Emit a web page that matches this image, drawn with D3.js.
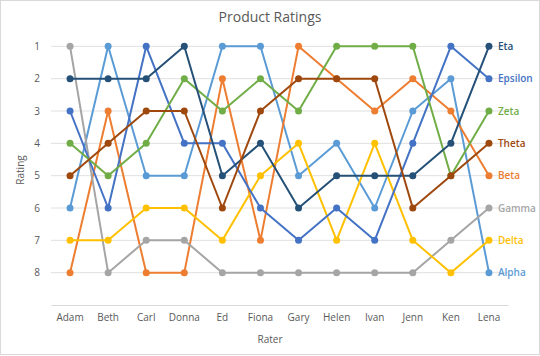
<!DOCTYPE html>
<html><head><meta charset="utf-8">
<script src="https://cdn.jsdelivr.net/npm/d3@7"></script>
<style>
body{margin:0;background:#fff;}
svg{display:block;font-family:"Open Sans","Segoe UI",sans-serif;}
</style></head>
<body><svg id="c" width="540" height="356"></svg>
<script>
const raters = ["Adam","Beth","Carl","Donna","Ed","Fiona","Gary","Helen","Ivan","Jenn","Ken","Lena"];
const yTicks = [1,2,3,4,5,6,7,8];
const seriesNames = ["Alpha","Beta","Gamma","Delta","Epsilon","Zeta","Eta","Theta"];
const seriesColors = ["#5B9BD5","#ED7D31","#A5A5A5","#FFC000","#4472C4","#70AD47","#255077","#9E480E"];
const alpha   = [6,1,5,5,1,1,5,4,6,3,2,8];
const beta    = [8,3,8,8,2,7,1,2,3,2,3,5];
const gamma   = [1,8,7,7,8,8,8,8,8,8,7,6];
const delta   = [7,7,6,6,7,5,4,7,4,7,8,7];
const epsilon = [3,6,1,4,4,6,7,6,7,4,1,2];
const zeta    = [4,5,4,2,3,2,3,1,1,1,5,3];
const eta     = [2,2,2,1,5,4,6,5,5,5,4,1];
const theta   = [5,4,3,3,6,3,2,2,2,6,5,4];
const seriesValues = [alpha,beta,gamma,delta,epsilon,zeta,eta,theta];

const svg = d3.select("#c");
const L = 51, R = 508, T = 14, B = 305;
const x = d3.scaleBand().domain(raters).range([L,R]);
const y = d3.scaleLinear().domain([0,9]).range([T,B]);
const cx = d => x(d) + x.bandwidth()/2;

svg.append("rect").attr("x",0.5).attr("y",0.5).attr("width",539).attr("height",354)
  .attr("fill","#fff").attr("stroke","#d9d9d9");

svg.append("text").attr("x",270).attr("y",22).attr("text-anchor","middle")
  .attr("font-size",14).attr("fill","#595959").text("Product Ratings");

// gridlines
svg.append("g").selectAll("line").data(yTicks).join("line")
  .attr("x1",L).attr("x2",R).attr("y1",d=>y(d)).attr("y2",d=>y(d))
  .attr("stroke","#e0e0e0").attr("stroke-width",1);

// y axis labels
const ya = svg.append("g").attr("transform",`translate(${L},0)`)
  .call(d3.axisLeft(y).tickValues(yTicks).tickSize(0).tickPadding(11));
ya.select(".domain").remove();
ya.selectAll("text").attr("font-size",10).attr("fill","#595959").attr("font-family","Open Sans");

// x axis
const xa = svg.append("g").attr("transform",`translate(0,${B})`)
  .call(d3.axisBottom(x).tickSize(0).tickPadding(9));
xa.select(".domain").attr("stroke","#d9d9d9").attr("stroke-width",1.2);
xa.selectAll("text").attr("font-size",10).attr("fill","#595959").attr("font-family","Open Sans");

svg.append("text").attr("x",270).attr("y",343).attr("text-anchor","middle")
  .attr("font-size",10).attr("fill","#595959").text("Rater");
svg.append("text").attr("transform","translate(24,170) rotate(-90)").attr("text-anchor","middle")
  .attr("font-size",10).attr("fill","#595959").text("Rating");

const line = d3.line().x((d,i)=>cx(raters[i])).y(d=>y(d));
seriesNames.forEach((name,si)=>{
  const vals = seriesValues[si], col = seriesColors[si];
  const g = svg.append("g");
  g.append("path").attr("d",line(vals)).attr("fill","none").attr("stroke",col)
    .attr("stroke-width",2).attr("stroke-linejoin","round");
  g.selectAll("circle").data(vals).join("circle")
    .attr("cx",(d,i)=>cx(raters[i])).attr("cy",d=>y(d)).attr("r",3.5).attr("fill",col);
  g.append("text").attr("x",cx(raters[raters.length-1])+9).attr("y",y(vals[vals.length-1]))
    .attr("dy","0.35em").attr("font-size",10).attr("font-weight",600).attr("fill",col).text(name);
});
</script></body></html>
